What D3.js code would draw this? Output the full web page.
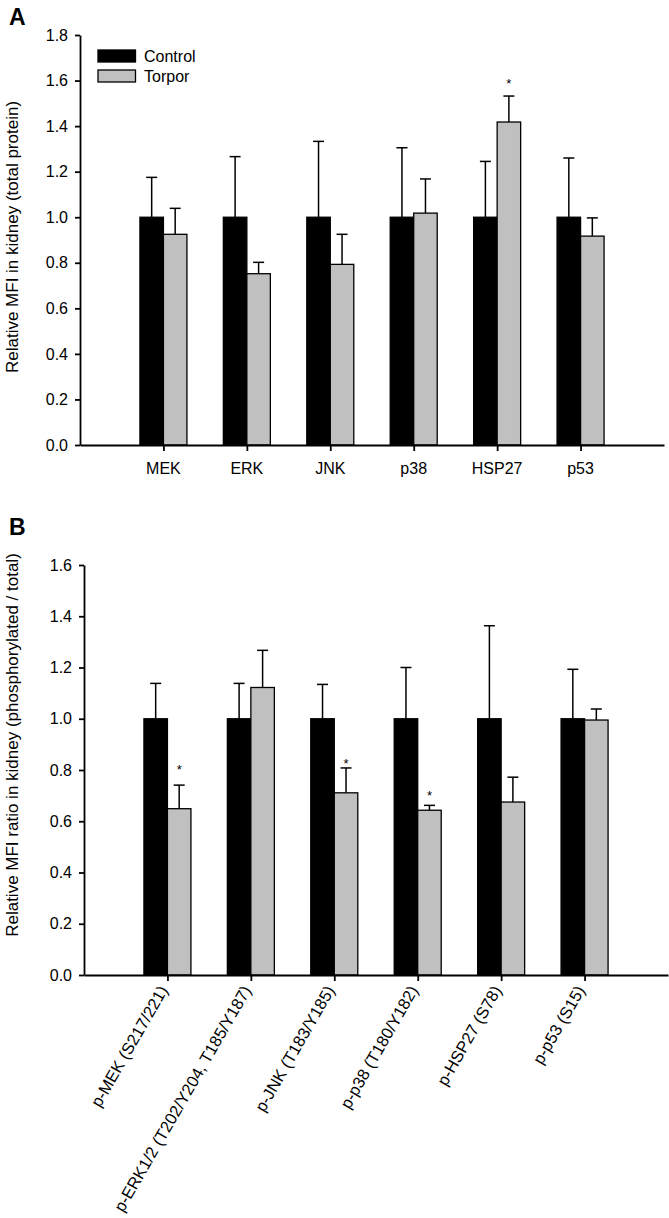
<!DOCTYPE html>
<html><head><meta charset="utf-8">
<script src="https://cdn.jsdelivr.net/npm/d3@7"></script>
<style>
body{margin:0;background:#fff}
svg{display:block;font-family:"Liberation Sans",Arial,Helvetica,sans-serif}
</style></head><body>
<svg id="chart" width="669" height="1218"></svg>
<script>
// ---------- data ----------
const seriesNames = ["Control", "Torpor"];

const catsA = ["MEK", "ERK", "JNK", "p38", "HSP27", "p53"];
const controlA = [1.0, 1.0, 1.0, 1.0, 1.0, 1.0];
const controlErrA = [0.175, 0.266, 0.333, 0.305, 0.245, 0.260];
const torporA = [0.925, 0.752, 0.793, 1.018, 1.418, 0.917];
const torporErrA = [0.114, 0.050, 0.132, 0.150, 0.114, 0.080];
const sigPosA = [null, null, null, null, 1.602, null];   // asterisk height (data units)
const yTicksA = [0.0, 0.2, 0.4, 0.6, 0.8, 1.0, 1.2, 1.4, 1.6, 1.8];

const catsB = ["p-MEK (S217/221)", "p-ERK1/2 (T202/Y204, T185/Y187)", "p-JNK (T183/Y185)",
               "p-p38 (T180/Y182)", "p-HSP27 (S78)", "p-p53 (S15)"];
const controlB = [1.0, 1.0, 1.0, 1.0, 1.0, 1.0];
const controlErrB = [0.138, 0.138, 0.134, 0.200, 0.363, 0.193];
const torporB = [0.649, 1.122, 0.711, 0.643, 0.675, 0.995];
const torporErrB = [0.092, 0.145, 0.097, 0.019, 0.097, 0.043];
const sigPosB = [0.813, null, 0.837, 0.714, null, null];
const yTicksB = [0.0, 0.2, 0.4, 0.6, 0.8, 1.0, 1.2, 1.4, 1.6];

const titleA = "Relative MFI in kidney (total protein)";
const titleB = "Relative MFI ratio in kidney (phosphorylated / total)";

// ---------- drawing ----------
const svg = d3.select("#chart");
const fills = {Control: "#000000", Torpor: "#c0c0c0"};

function panel(o) {
  const g = svg.append("g");
  const x = d3.scalePoint().domain(o.cats).range([o.left, o.right]).padding(1);
  const y = d3.scaleLinear().domain([0, o.yMax]).range([o.bottom, o.top]);
  const sub = d3.scaleBand().domain(seriesNames).range([-23.5, 23.5]);

  const rows = [];
  o.cats.forEach((c, i) => {
    rows.push({c, s: "Control", v: o.ctrl[i], e: o.ctrlErr[i]});
    rows.push({c, s: "Torpor", v: o.tor[i], e: o.torErr[i]});
  });

  // error bars
  const eb = g.append("g").attr("stroke", "#000").attr("stroke-width", 1.5);
  rows.forEach(r => {
    const cx = x(r.c) + sub(r.s) + sub.bandwidth() / 2;
    eb.append("line").attr("x1", cx).attr("x2", cx)
      .attr("y1", y(r.v)).attr("y2", y(r.v + r.e));
    eb.append("line").attr("x1", cx - 5.5).attr("x2", cx + 5.5)
      .attr("y1", y(r.v + r.e)).attr("y2", y(r.v + r.e));
  });

  // bars
  g.append("g").selectAll("rect").data(rows).join("rect")
    .attr("x", d => x(d.c) + sub(d.s))
    .attr("width", sub.bandwidth())
    .attr("y", d => y(d.v))
    .attr("height", d => y(0) - y(d.v))
    .attr("fill", d => fills[d.s])
    .attr("stroke", "#000").attr("stroke-width", 1.3);

  // significance asterisks
  o.cats.forEach((c, i) => {
    if (o.sig[i] == null) return;
    const cx = x(c) + sub("Torpor") + sub.bandwidth() / 2;
    g.append("text").attr("x", cx).attr("y", y(o.sig[i]) + 7.5)
      .attr("text-anchor", "middle").attr("font-size", 13).text("*");
  });

  // y axis
  const ya = g.append("g").attr("transform", `translate(${o.left},0)`)
    .call(d3.axisLeft(y).tickValues(o.yTicks).tickFormat(d3.format(".1f"))
      .tickSize(5).tickPadding(7).tickSizeOuter(0));
  ya.selectAll("text").attr("font-size", 16).attr("font-family", null).attr("fill", "#000");
  ya.selectAll("line,path").attr("stroke", "#000").attr("stroke-width", 1.8);

  // x axis
  const xa = g.append("g").attr("transform", `translate(0,${o.bottom})`)
    .call(d3.axisBottom(x).tickSize(6).tickSizeOuter(0).tickFormat(""));
  xa.selectAll("line,path").attr("stroke", "#000").attr("stroke-width", 1.8);

  // x labels
  const lab = g.append("g");
  o.cats.forEach(c => {
    if (o.rotate) {
      lab.append("text").attr("text-anchor", "end").attr("font-size", 16.5)
        .attr("transform", `translate(${x(c) + 1},${o.bottom + 15}) rotate(-60)`)
        .text(c);
    } else {
      lab.append("text").attr("text-anchor", "middle").attr("font-size", 16)
        .attr("x", x(c)).attr("y", o.bottom + 28.5).text(c);
    }
  });

  // y title
  g.append("text").attr("font-size", 17).attr("text-anchor", "middle")
    .attr("transform", `translate(18,${o.titleY}) rotate(-90)`).text(o.title);

  // panel letter
  g.append("text").attr("x", 9).attr("y", o.letterY)
    .attr("font-size", 23).attr("font-weight", "bold").text(o.letter);

  // legend
  if (o.legend) {
    const lg = g.append("g");
    seriesNames.forEach((s, i) => {
      const ly = 50 + i * 20;
      lg.append("rect").attr("x", 98).attr("y", ly).attr("width", 37.5).attr("height", 12)
        .attr("fill", fills[s]).attr("stroke", "#000").attr("stroke-width", 1.3);
      lg.append("text").attr("x", 144).attr("y", ly + 11.5).attr("font-size", 16).text(s);
    });
  }
}

panel({cats: catsA, ctrl: controlA, ctrlErr: controlErrA, tor: torporA, torErr: torporErrA,
  sig: sigPosA, yTicks: yTicksA, yMax: 1.8, left: 80, right: 664, top: 35, bottom: 445,
  rotate: false, title: titleA, titleY: 237, letter: "A", letterY: 25, legend: true});

panel({cats: catsB, ctrl: controlB, ctrlErr: controlErrB, tor: torporB, torErr: torporErrB,
  sig: sigPosB, yTicks: yTicksB, yMax: 1.6, left: 84, right: 668, top: 565, bottom: 975,
  rotate: true, title: titleB, titleY: 745, letter: "B", letterY: 535, legend: false});
</script>
</body></html>
